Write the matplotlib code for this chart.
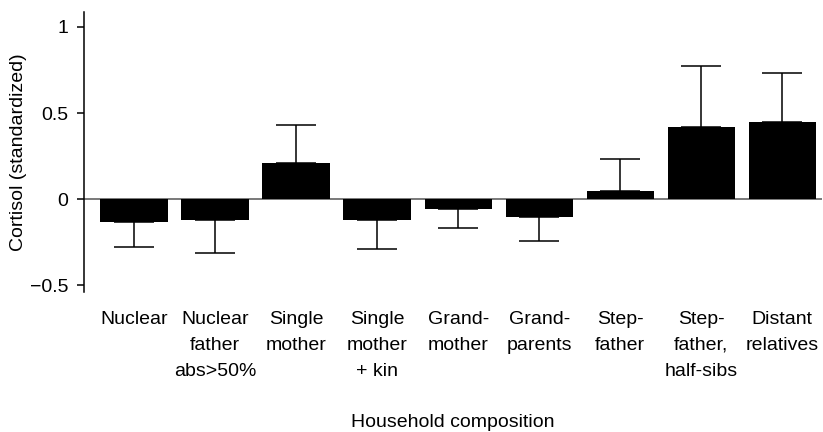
import matplotlib
matplotlib.use("Agg")
import matplotlib.pyplot as plt
import numpy as np

plt.rcParams['font.family'] = ['Liberation Sans', 'DejaVu Sans']

categories = [
    "Nuclear",
    "Nuclear\nfather\nabs>50%",
    "Single\nmother",
    "Single\nmother\n+ kin",
    "Grand-\nmother",
    "Grand-\nparents",
    "Step-\nfather",
    "Step-\nfather,\nhalf-sibs",
    "Distant\nrelatives",
]
means = [-0.135, -0.122, 0.207, -0.122, -0.06, -0.107, 0.047, 0.42, 0.45]
errors = [0.142, 0.194, 0.223, 0.17, 0.11, 0.138, 0.187, 0.355, 0.284]

x = np.arange(len(categories))
means = np.array(means)
errors = np.array(errors)
# error bars only point away from zero
lower = np.where(means < 0, errors, 0)
upper = np.where(means >= 0, errors, 0)

fig = plt.figure(figsize=(8.23, 4.32), dpi=100)
ax = fig.add_axes([84 / 823, 140 / 432, 738 / 823, 280 / 432])

ax.bar(x, means, width=0.83, color='black', zorder=2)
ax.errorbar(x, means, yerr=[lower, upper], fmt='none', ecolor='black',
            elinewidth=1.1, capsize=14.4, capthick=1.1, zorder=3)
ax.axhline(0, color='#555555', linewidth=1.1, zorder=1)

ax.set_xlim(-0.617, 8.49)
ax.set_ylim(-0.54, 1.087)
ax.set_yticks([-0.5, 0, 0.5, 1])
ax.set_yticklabels(['\u22120.5', '0', '0.5', '1'])
ax.set_xticks(x)
ax.set_xticklabels(categories, linespacing=1.7)

for side in ['top', 'right', 'bottom']:
    ax.spines[side].set_visible(False)
ax.spines['left'].set_linewidth(1.1)
ax.tick_params(axis='x', length=0, pad=13.5, labelsize=14)
ax.tick_params(axis='y', length=5, width=1.1, labelsize=14, pad=6.5)

ax.set_ylabel("Cortisol (standardized)", fontsize=14, labelpad=2)
ax.set_xlabel("Household composition", fontsize=14, labelpad=24.5)

fig.savefig("out.png", dpi=100)
